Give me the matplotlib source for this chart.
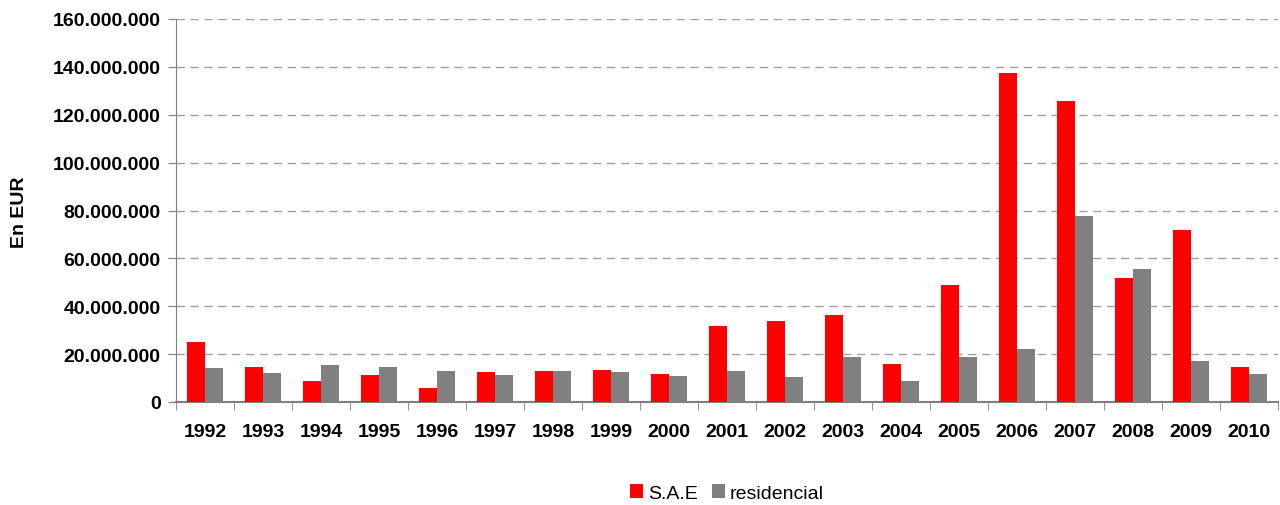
import numpy as np
import matplotlib.pyplot as plt
from matplotlib.ticker import FuncFormatter

years = ['1992', '1993', '1994', '1995', '1996', '1997', '1998', '1999', '2000', '2001',
         '2002', '2003', '2004', '2005', '2006', '2007', '2008', '2009', '2010']
# values in millions of EUR
sae = [24.9, 14.6, 8.8, 11.2, 5.8, 12.4, 12.8, 13.2, 11.9, 31.7,
       33.9, 36.4, 15.7, 49.0, 137.6, 125.6, 51.7, 71.9, 14.7]
residencial = [14.3, 12.1, 15.3, 14.7, 12.8, 11.2, 12.9, 12.6, 10.8, 12.8,
               10.6, 18.9, 8.9, 18.9, 22.1, 77.6, 55.6, 17.1, 11.9]

plt.rcParams['font.family'] = ['Liberation Sans', 'DejaVu Sans']

fig = plt.figure(figsize=(12.8, 5.06), dpi=100)
ax = fig.add_axes([176 / 1280, 1 - 403 / 506, (1278 - 176) / 1280, (403 - 20) / 506])

x = np.arange(len(years))
w = 0.31
ax.bar(x - w / 2, np.array(sae) * 1e6, w, color='#ff0000', label='S.A.E', zorder=3)
ax.bar(x + w / 2, np.array(residencial) * 1e6, w, color='#808080', label='residencial', zorder=3)

ax.set_xlim(-0.5, len(years) - 0.5)
ax.set_ylim(0, 160e6)
ax.set_yticks(np.arange(0, 160e6 + 1, 20e6))
ax.yaxis.set_major_formatter(FuncFormatter(lambda v, p: f'{int(v):,}'.replace(',', '.')))
ax.grid(axis='y', color='#a0a0a0', linestyle=(0, (6, 4)), linewidth=1, zorder=0)

ax.set_xticks(x)
ax.set_xticklabels(years)
ax.set_xticks(np.arange(-0.5, len(years), 1), minor=True)
ax.tick_params(axis='x', which='major', length=0, pad=15, labelsize=14)
ax.tick_params(axis='x', which='minor', length=6, color='#808080', direction='out')
ax.tick_params(axis='y', length=6, color='#808080', labelsize=14, pad=5)
for lab in ax.get_xticklabels() + ax.get_yticklabels():
    lab.set_fontweight('bold')
    lab.set_color('#000000')

for s in ['top', 'right']:
    ax.spines[s].set_visible(False)
ax.spines['left'].set_color('#808080')
ax.spines['bottom'].set_color('#808080')
ax.spines['bottom'].set_linewidth(1.5)

fig.text(20 / 1280, 1 - 212 / 506, 'En EUR', rotation=90, fontsize=14, fontweight='bold',
         ha='center', va='center')

fig.legend(loc='center', bbox_to_anchor=(727 / 1280, 1 - 494 / 506), ncol=2, frameon=False,
           fontsize=14, handlelength=0.68, handleheight=0.68, handletextpad=0.25,
           columnspacing=0.7)

fig.savefig('out.png', dpi=100)
